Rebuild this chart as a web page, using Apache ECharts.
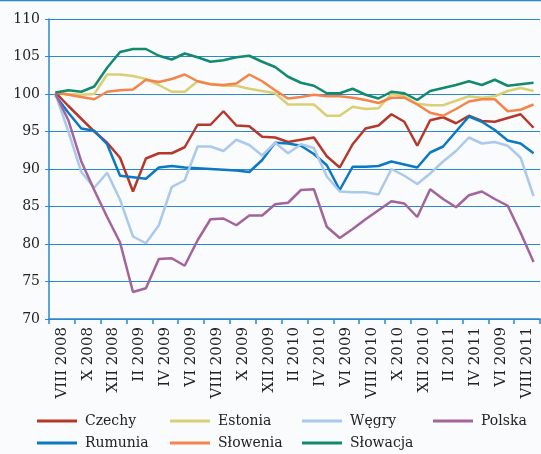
<!DOCTYPE html>
<html>
<head>
<meta charset="utf-8">
<script src="https://cdn.jsdelivr.net/npm/echarts@6/dist/echarts.min.js"></script>
<style>
  html, body { margin: 0; padding: 0; background: #f9fbfd; }
  #chart { width: 541px; height: 454px; }
</style>
</head>
<body>
<div id="chart"></div>
<script>
// miesiące VIII 2008 – IX 2011
const months = [
  "VIII 2008", "IX 2008", "X 2008", "XI 2008", "XII 2008",
  "I 2009", "II 2009", "III 2009", "IV 2009", "V 2009", "VI 2009", "VII 2009",
  "VIII 2009", "IX 2009", "X 2009", "XI 2009", "XII 2009",
  "I 2010", "II 2010", "III 2010", "IV 2010", "V 2010", "VI 2010", "VII 2010",
  "VIII 2010", "IX 2010", "X 2010", "XI 2010", "XII 2010",
  "I 2011", "II 2011", "III 2011", "IV 2011", "V 2011", "VI 2011", "VII 2011",
  "VIII 2011", "IX 2011"
];
// podpisy osi (co dwa miesiące, jak w oryginale)
const tickLabels = [
  "VIII 2008", "X 2008", "XII 2008", "II 2009", "IV 2009", "VI 2009",
  "VIII 2009", "X 2009", "XII 2009", "II 2010", "IV 2010", "VI 2009",
  "VIII 2010", "X 2010", "XII 2010", "II 2011", "IV 2011", "VI 2009", "VIII 2011"
];

const czechy = [100.2, 98.4, 96.7, 95.0, 93.5, 91.5, 87.0, 91.4, 92.1, 92.1, 92.9, 95.9, 95.9, 97.7, 95.8, 95.7, 94.3, 94.2, 93.6, 93.9, 94.2, 91.7, 90.2, 93.3, 95.4, 95.8, 97.3, 96.3, 93.1, 96.5, 96.9, 96.1, 97.1, 96.4, 96.3, 96.8, 97.3, 95.5];
const rumunia = [99.8, 97.5, 95.4, 95.1, 93.3, 89.1, 88.9, 88.7, 90.2, 90.4, 90.2, 90.1, 90.0, 89.9, 89.8, 89.6, 91.2, 93.5, 93.4, 93.1, 92.0, 90.5, 87.2, 90.3, 90.3, 90.4, 91.0, 90.6, 90.2, 92.2, 93.0, 95.0, 97.0, 96.3, 95.2, 93.8, 93.4, 92.1];
const estonia = [100.2, 100.0, 99.9, 100.0, 102.6, 102.6, 102.4, 102.0, 101.2, 100.3, 100.3, 101.7, 101.3, 101.1, 101.1, 100.7, 100.4, 100.1, 98.6, 98.6, 98.6, 97.1, 97.1, 98.3, 98.0, 98.1, 100.0, 99.7, 98.7, 98.5, 98.5, 99.1, 99.7, 99.5, 99.7, 100.4, 100.8, 100.4];
const slowenia = [100.2, 99.9, 99.6, 99.3, 100.3, 100.5, 100.6, 101.9, 101.6, 102.0, 102.6, 101.7, 101.3, 101.2, 101.4, 102.6, 101.7, 100.5, 99.4, 99.6, 99.9, 99.7, 99.7, 99.5, 99.2, 98.8, 99.5, 99.5, 98.6, 97.5, 97.1, 98.0, 99.0, 99.3, 99.3, 97.7, 97.9, 98.6];
const wegry = [100.0, 95.0, 89.6, 87.5, 89.5, 85.9, 81.0, 80.1, 82.5, 87.6, 88.5, 93.0, 93.0, 92.4, 93.9, 93.2, 91.8, 93.5, 92.1, 93.3, 92.8, 89.0, 87.0, 86.9, 86.9, 86.6, 90.0, 89.1, 88.0, 89.4, 91.0, 92.4, 94.2, 93.4, 93.6, 93.1, 91.5, 86.4];
const slowacja = [100.2, 100.5, 100.3, 101.0, 103.5, 105.6, 106.0, 106.0, 105.1, 104.6, 105.4, 104.9, 104.3, 104.5, 104.9, 105.1, 104.3, 103.6, 102.3, 101.5, 101.1, 100.1, 100.1, 100.7, 99.9, 99.4, 100.3, 100.1, 99.2, 100.4, 100.8, 101.2, 101.7, 101.2, 101.9, 101.1, 101.3, 101.5];
const polska = [100.0, 96.5, 91.0, 87.2, 83.6, 80.2, 73.6, 74.1, 78.0, 78.1, 77.1, 80.5, 83.3, 83.4, 82.5, 83.8, 83.8, 85.3, 85.5, 87.2, 87.3, 82.3, 80.8, 82.0, 83.3, 84.5, 85.7, 85.4, 83.6, 87.3, 86.0, 84.9, 86.5, 87.0, 86.0, 85.1, 81.5, 77.6];

const names = ["Czechy", "Rumunia", "Estonia", "Słowenia", "Węgry", "Słowacja", "Polska"];
const values = [czechy, rumunia, estonia, slowenia, wegry, slowacja, polska];
const colors = ["#b5382b", "#0b78c1", "#dbcf74", "#f5844a", "#abc9ea", "#13896d", "#a2649b"];

// położenie pozycji legendy (kolumny po 133 px, dwa wiersze)
const legendPos = {
  "Czechy": [37, 414], "Estonia": [170, 414], "Węgry": [302, 414], "Polska": [433, 414],
  "Rumunia": [37, 436], "Słowenia": [170, 436], "Słowacja": [302, 436]
};

const font = "DejaVu Serif";
const blue = "#2b88cc";

let chart = echarts.init(document.getElementById("chart"), null, { renderer: "canvas" });
chart.setOption({
  backgroundColor: "#f9fbfd",
  animation: false,
  color: colors,
  graphic: [{
    type: "line",
    shape: { x1: 0, y1: 0.5, x2: 541, y2: 0.5 },
    style: { stroke: blue, lineWidth: 1.5 }
  }],
  legend: names.map(function(n) {
    return {
      data: [n],
      left: legendPos[n][0],
      top: legendPos[n][1],
      icon: "rect",
      itemWidth: 40,
      itemHeight: 3,
      padding: 0,
      textStyle: { fontFamily: font, fontSize: 14, color: "#222", padding: [0, 0, 0, 3] }
    };
  }),
  grid: { left: 49, right: 1, top: 19, bottom: 135, containLabel: false },
  xAxis: [
    {
      type: "category",
      data: tickLabels,
      boundaryGap: true,
      axisLine: { lineStyle: { color: blue, width: 1.5 } },
      axisTick: { show: true, length: 5, interval: 0, lineStyle: { color: blue, width: 1.5 } },
      axisLabel: {
        interval: 0, rotate: 90, margin: 8,
        fontFamily: font, fontSize: 15, color: "#222"
      },
      splitLine: { show: false }
    },
    {
      type: "category",
      data: months,
      boundaryGap: true,
      show: false
    }
  ],
  yAxis: {
    type: "value",
    min: 70, max: 110, interval: 5,
    axisLine: { show: true, lineStyle: { color: blue, width: 1.5 } },
    axisTick: { show: true, length: 4, lineStyle: { color: blue } },
    axisLabel: { fontFamily: font, fontSize: 14, color: "#222", margin: 9 },
    splitLine: { lineStyle: { color: blue, width: 1 } }
  },
  series: names.map(function(n, i) {
    return {
      name: n,
      type: "line",
      xAxisIndex: 1,
      data: values[i],
      symbol: "none",
      lineStyle: { width: 2.5, color: colors[i] },
      itemStyle: { color: colors[i] }
    };
  })
});
</script>
</body>
</html>
